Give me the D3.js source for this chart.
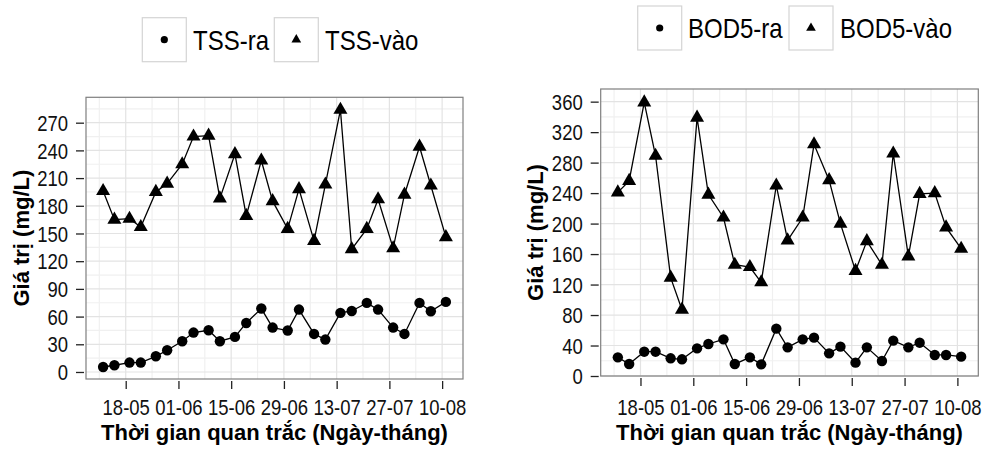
<!DOCTYPE html>
<html><head><meta charset="utf-8">
<script src="https://cdn.jsdelivr.net/npm/d3@7"></script>
<style>
html,body{margin:0;padding:0;background:#fff;}
svg{display:block;font-family:"Liberation Sans",Arial,Helvetica,sans-serif;}
</style></head>
<body>
<svg id="chart" width="984" height="450"></svg>
<script>
// ---- data ----
const dates = ["2014-05-12","2014-05-15","2014-05-19","2014-05-22","2014-05-26","2014-05-29",
  "2014-06-02","2014-06-05","2014-06-09","2014-06-12","2014-06-16","2014-06-19","2014-06-23",
  "2014-06-26","2014-06-30","2014-07-03","2014-07-07","2014-07-10","2014-07-14","2014-07-17",
  "2014-07-21","2014-07-24","2014-07-28","2014-07-31","2014-08-04","2014-08-07","2014-08-11"];
const tssRa  = [5.4,7.3,10.2,10.2,17.0,23.5,33.3,42.7,45.2,33.3,38.0,53.1,68.7,48.1,44.9,67.6,41.2,35.1,64.0,66.1,74.8,67.6,48.1,41.2,74.8,65.8,75.9];
const tssVao = [196,165,166,157,195,204,225,255,256,188,236,169,229,185,155,198,142,203,284,133,155,187,134,192,244,202,146];
const bodRa  = [24.5,15.7,31.9,31.9,23.2,21.9,36.3,42,48.1,15.7,24.5,15.3,62.1,37.6,48.1,50.3,29.7,38.5,17.5,37.6,19.7,46.4,37.6,43.7,27.6,27.6,25.4];
const bodVao = [241,256,359,289,129,87,339,238,208,146,143,123,250,178,208,304,257,200,138,177,146,292,157,239,240,195,167];
const xTickLabels = ["18-05","01-06","15-06","29-06","13-07","27-07","10-08"];
const tssTicks = [0,30,60,90,120,150,180,210,240,270];
const bodTicks = [0,40,80,120,160,200,240,280,320,360];
const tssLegend = ["TSS-ra","TSS-vào"];
const bodLegend = ["BOD5-ra","BOD5-vào"];
const xTitle = "Thời gian quan trắc (Ngày-tháng)";
const yTitle = "Giá trị (mg/L)";

const parse = d3.timeParse("%Y-%m-%d");
const dDates = dates.map(parse);
const tickDates = xTickLabels.map(s => d3.timeParse("%d-%m-%Y")(s + "-2014"));
const xDomain = [new Date(2014,4,7,11), new Date(2014,7,15,13)];

const svg = d3.select("#chart");
const R = 5.2, RL = 3.6;
const tri = r => `M0,${-1.555*r}L${1.347*r},${0.778*r}L${-1.347*r},${0.778*r}Z`;
const SY = 1.15; // vertical stretch of tick / legend text as in reference
const TFS = 18.5;

function panel(o){
  const g = svg.append("g");
  const x = d3.scaleTime().domain(xDomain).range([o.left, o.right]);
  const y = d3.scaleLinear().domain(o.yDomain).range([o.bottom, o.top]);
  g.append("rect").attr("x",o.left).attr("y",o.top).attr("width",o.right-o.left).attr("height",o.bottom-o.top).attr("fill","#fff");
  // minor grid
  const yStep = o.yTicks[1]-o.yTicks[0];
  const yMinor = o.yTicks.map(v=>v+yStep/2).concat([o.yTicks[0]-yStep/2]).filter(v=>v>o.yDomain[0]&&v<o.yDomain[1]);
  const xMinor = tickDates.map(d=>d3.timeDay.offset(d,7)).concat([d3.timeDay.offset(tickDates[0],-7)]).filter(d=>d>xDomain[0]&&d<xDomain[1]);
  g.selectAll(".ymin").data(yMinor).join("line").attr("x1",o.left).attr("x2",o.right).attr("y1",d=>y(d)).attr("y2",d=>y(d)).attr("stroke","#f0f0f0").attr("stroke-width",1.2);
  g.selectAll(".xmin").data(xMinor).join("line").attr("y1",o.top).attr("y2",o.bottom).attr("x1",d=>x(d)).attr("x2",d=>x(d)).attr("stroke","#f0f0f0").attr("stroke-width",1.2);
  // major grid
  g.selectAll(".ymaj").data(o.yTicks).join("line").attr("x1",o.left).attr("x2",o.right).attr("y1",d=>y(d)).attr("y2",d=>y(d)).attr("stroke","#e3e3e3").attr("stroke-width",1.2);
  g.selectAll(".xmaj").data(tickDates).join("line").attr("y1",o.top).attr("y2",o.bottom).attr("x1",d=>x(d)).attr("x2",d=>x(d)).attr("stroke","#e3e3e3").attr("stroke-width",1.2);
  // axes
  const ax = g.append("g").attr("transform",`translate(0,${o.bottom+2})`)
    .call(d3.axisBottom(x).tickValues(tickDates).tickFormat((d,i)=>xTickLabels[i]).tickSize(8).tickPadding(9));
  ax.select(".domain").remove();
  ax.selectAll(".tick line").attr("stroke","#222").attr("stroke-width",1.3);
  ax.selectAll(".tick text").attr("fill","#111").attr("font-size",TFS).attr("font-family","Liberation Sans, Arial, sans-serif")
    .attr("y",0).attr("dy",null).attr("transform",`translate(0,${415-(o.bottom+2)}) scale(1,${SY})`);
  const ay = g.append("g").attr("transform",`translate(${o.left-2},0)`)
    .call(d3.axisLeft(y).tickValues(o.yTicks).tickSize(8).tickPadding(8));
  ay.select(".domain").remove();
  ay.selectAll(".tick line").attr("stroke","#222").attr("stroke-width",1.3);
  ay.selectAll(".tick text").attr("fill","#111").attr("font-size",TFS).attr("font-family","Liberation Sans, Arial, sans-serif")
    .attr("x",0).attr("dy",null).attr("transform",`translate(-16,${0.36*TFS*SY}) scale(1,${SY})`);
  // lines and points
  const line = d3.line().x((d,i)=>x(dDates[i])).y(d=>y(d));
  [o.ra,o.vao].forEach(s=>{
    g.append("path").datum(s).attr("d",line).attr("fill","none").attr("stroke","#000").attr("stroke-width",1.3);
  });
  g.selectAll(".pt").data(o.ra).join("circle").attr("cx",(d,i)=>x(dDates[i])).attr("cy",d=>y(d)).attr("r",R).attr("fill","#000");
  g.selectAll(".tri").data(o.vao).join("path").attr("d",tri(R)).attr("transform",(d,i)=>`translate(${x(dDates[i])},${y(d)})`).attr("fill","#000");
  // border
  g.append("rect").attr("x",o.left).attr("y",o.top).attr("width",o.right-o.left).attr("height",o.bottom-o.top).attr("fill","none").attr("stroke","#7f7f7f").attr("stroke-width",1.2);
  // titles
  g.append("text").attr("x",(o.left+o.right)/2).attr("y",o.xTitleY).attr("text-anchor","middle").attr("font-weight","bold").attr("font-size",22).attr("fill","#000").text(xTitle);
  g.append("text").attr("transform",`translate(${o.yTitleX},${(o.top+o.bottom)/2}) rotate(-90)`).attr("text-anchor","middle").attr("font-weight","bold").attr("font-size",22).attr("fill","#000").text(yTitle);
  // legend
  const lg = g.append("g");
  const ks = 44, cy = o.legY+ks/2;
  lg.append("rect").attr("x",o.leg[0]).attr("y",o.legY).attr("width",ks).attr("height",ks).attr("fill","#fff").attr("stroke","#d4d4d4").attr("stroke-width",1.2);
  lg.append("circle").attr("cx",o.leg[0]+ks/2).attr("cy",cy).attr("r",RL).attr("fill","#000");
  lg.append("text").attr("transform",`translate(${o.leg[1]},${cy+0.358*24*SY}) scale(1,${SY})`).attr("font-size",24).attr("fill","#000").text(o.legend[0]);
  lg.append("rect").attr("x",o.leg[2]).attr("y",o.legY).attr("width",ks).attr("height",ks).attr("fill","#fff").attr("stroke","#d4d4d4").attr("stroke-width",1.2);
  lg.append("path").attr("d",tri(RL)).attr("transform",`translate(${o.leg[2]+ks/2},${cy})`).attr("fill","#000");
  lg.append("text").attr("transform",`translate(${o.leg[3]},${cy+0.358*24*SY}) scale(1,${SY})`).attr("font-size",24).attr("fill","#000").text(o.legend[1]);
}

panel({left:86,right:463,top:97.3,bottom:379,yDomain:[-7.6,297.5],yTicks:tssTicks,ra:tssRa,vao:tssVao,
  xTitleY:440,yTitleX:29,legend:tssLegend,leg:[142.3,193,274.3,325],legY:17.7});
panel({left:600.7,right:978.3,top:89,bottom:376,yDomain:[0,376.6],yTicks:bodTicks,ra:bodRa,vao:bodVao,
  xTitleY:440,yTitleX:543,legend:bodLegend,leg:[637.7,688,789,840],legY:6});
</script>
</body></html>
